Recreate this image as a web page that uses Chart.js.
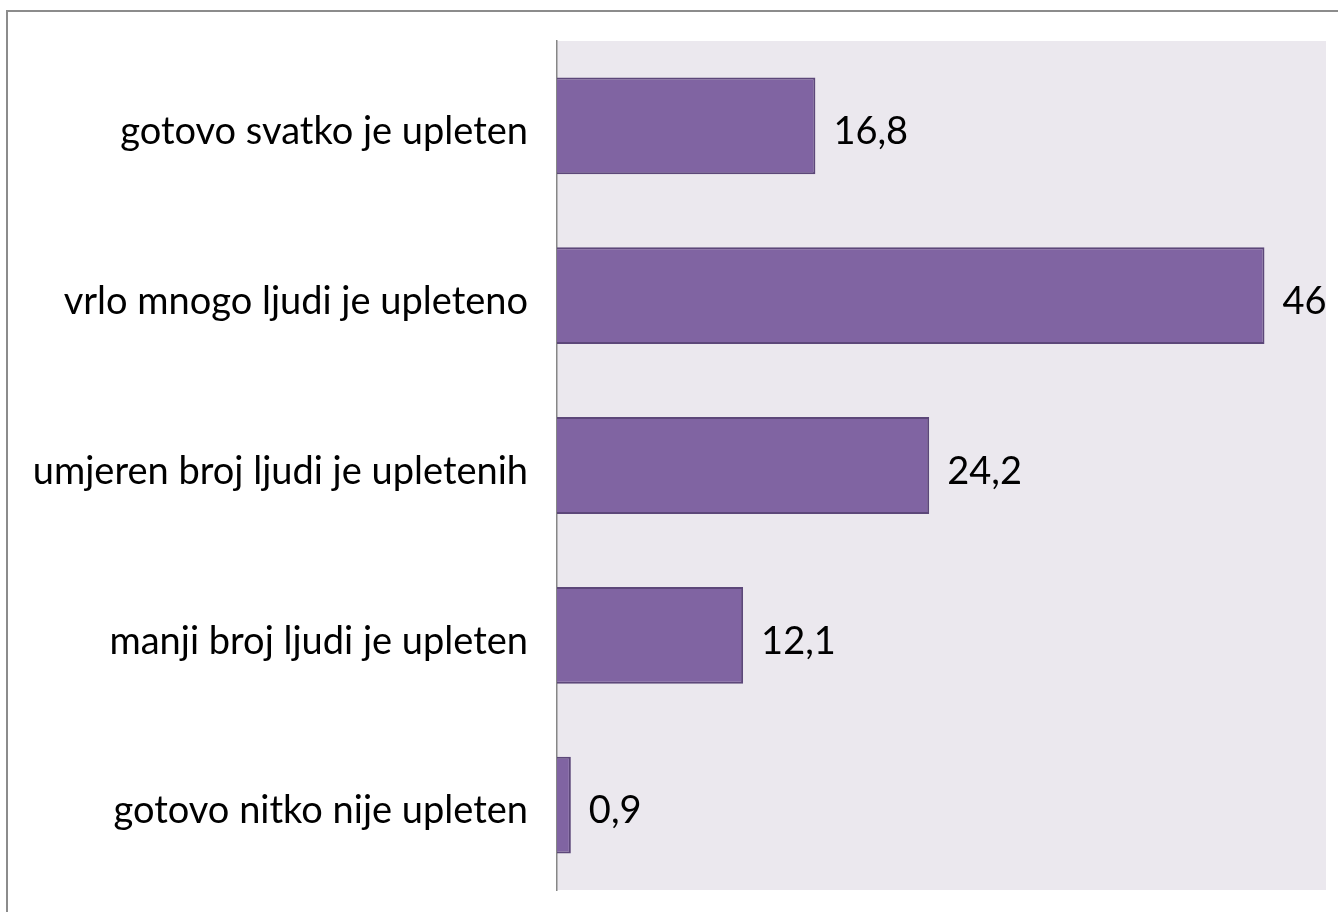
<!DOCTYPE html>
<html>
<head>
<meta charset="utf-8">
<script src="https://cdn.jsdelivr.net/npm/chart.js@4"></script>
<style>
  html, body { margin: 0; padding: 0; background: #fff; }
  #wrap { position: relative; width: 1338px; height: 912px; }
</style>
</head>
<body>
<div id="wrap"><canvas id="c" width="1338" height="912"></canvas></div>
<script>
// Data
const categories = [
  'gotovo svatko je upleten',
  'vrlo mnogo ljudi je upleteno',
  'umjeren broj ljudi je upletenih',
  'manji broj ljudi je upleten',
  'gotovo nitko nije upleten'
];
const values = [16.8, 46, 24.2, 12.1, 0.9];
const axisMax = 50;

const FONT = 'Lato, "Open Sans", sans-serif';
const PLOT_BG = '#EBE8EE';

// Outer frame + plot background
const backdrop = {
  id: 'backdrop',
  beforeDraw(chart) {
    const { ctx, chartArea: a } = chart;
    ctx.save();
    ctx.strokeStyle = '#8c8c8c';
    ctx.lineWidth = 2;
    ctx.beginPath();
    ctx.moveTo(7, 912);
    ctx.lineTo(7, 11);
    ctx.lineTo(1338, 11);
    ctx.stroke();
    ctx.fillStyle = PLOT_BG;
    ctx.fillRect(a.left, a.top, a.right - a.left, a.bottom - a.top);
    ctx.restore();
  }
};

// Value labels to the right of each bar
const valueLabels = {
  id: 'valueLabels',
  afterDatasetsDraw(chart) {
    const { ctx } = chart;
    const meta = chart.getDatasetMeta(0);
    ctx.save();
    ctx.font = '38px ' + FONT;
    ctx.fillStyle = '#000';
    ctx.textAlign = 'left';
    ctx.textBaseline = 'middle';
    meta.data.forEach((bar, i) => {
      const txt = String(values[i]).replace('.', ',');
      ctx.fillText(txt, bar.x + 18, bar.y + 6);
    });
    ctx.restore();
  }
};

new Chart(document.getElementById('c'), {
  type: 'bar',
  data: {
    labels: categories,
    datasets: [{
      data: values,
      backgroundColor: '#8064A2',
      borderColor: '#5C4779',
      borderWidth: 2,
      categoryPercentage: 1,
      barPercentage: 0.57
    }]
  },
  plugins: [backdrop, valueLabels],
  options: {
    indexAxis: 'y',
    responsive: false,
    animation: false,
    layout: { padding: { left: 0, top: 41, right: 12, bottom: 22 } },
    scales: {
      x: {
        display: false,
        min: 0,
        max: axisMax
      },
      y: {
        afterFit(scale) {
          scale.width = 557;
          scale.paddingTop = 0;
          scale.paddingBottom = 0;
        },
        grid: { display: false, drawTicks: false },
        border: { display: true, color: '#868686', width: 1.5 },
        ticks: {
          padding: 29,
          labelOffset: 6,
          color: '#000',
          font: { family: FONT, size: 38 }
        }
      }
    },
    plugins: {
      legend: { display: false },
      tooltip: { enabled: false }
    }
  }
});
</script>
</body>
</html>
